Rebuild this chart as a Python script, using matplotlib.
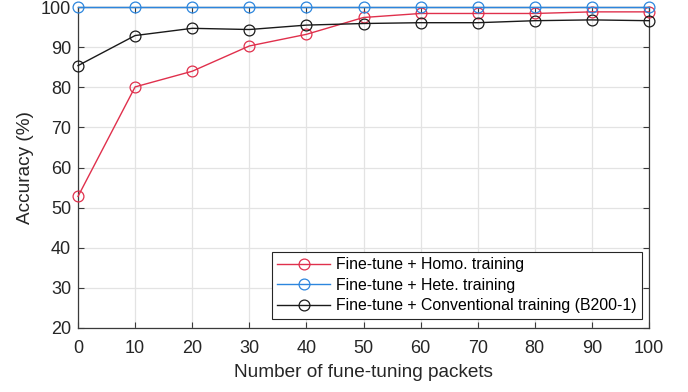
import matplotlib
matplotlib.use("Agg")
import matplotlib.pyplot as plt

plt.rcParams['font.family'] = ['Liberation Sans', 'DejaVu Sans']

packets = [0, 10, 20, 30, 40, 50, 60, 70, 80, 90, 100]
homo = [52.8, 80.1, 84.0, 90.3, 93.2, 97.4, 98.4, 98.4, 98.4, 98.8, 98.8]
hete = [100, 100, 100, 100, 100, 100, 100, 100, 100, 100, 100]
conventional = [85.4, 92.9, 94.7, 94.4, 95.5, 95.9, 96.1, 96.1, 96.6, 96.8, 96.6]

labels = ['Fine-tune + Homo. training',
          'Fine-tune + Hete. training',
          'Fine-tune + Conventional training (B200-1)']
colors = ['#E0304C', '#2C86DE', '#1A1A1A']

fig = plt.figure(figsize=(6.88, 3.92), dpi=100)
ax = fig.add_axes([0.1134, 0.1633, 0.8299, 0.8187])

for ys, lab, c in zip([homo, hete, conventional], labels, colors):
    ax.plot(packets, ys, color=c, lw=1.0, marker='o', markersize=7.8,
            markerfacecolor='none', markeredgecolor=c, markeredgewidth=0.9,
            label=lab, clip_on=False, zorder=3)

ax.set_xlim(0, 100)
ax.set_ylim(20, 100)
ax.set_xticks(range(0, 101, 10))
ax.set_yticks(range(20, 101, 10))
ax.grid(True, color='#E3E3E3', lw=0.9)
ax.set_axisbelow(True)
for s in ax.spines.values():
    s.set_color('#3A3A3A')
    s.set_linewidth(0.9)
ax.tick_params(direction='in', length=4, width=0.8, colors='#3A3A3A',
               labelcolor='#262626', labelsize=13, top=True, right=True)
ax.tick_params(axis='x', pad=9)
ax.tick_params(axis='y', pad=5)
ax.set_xlabel('Number of fune-tuning packets', fontsize=13.7, color='#262626', labelpad=5)
ax.set_ylabel('Accuracy (%)', fontsize=13.7, color='#262626', labelpad=5)

leg = ax.legend(loc='lower right', fontsize=11.4, frameon=True, fancybox=False,
                edgecolor='#262626', framealpha=1, borderpad=0.35,
                labelspacing=0.35, handlelength=3.3, handletextpad=0.4,
                borderaxespad=0, bbox_to_anchor=(0.988, 0.028))
leg.get_frame().set_linewidth(0.8)

fig.savefig('out.png', dpi=100)
